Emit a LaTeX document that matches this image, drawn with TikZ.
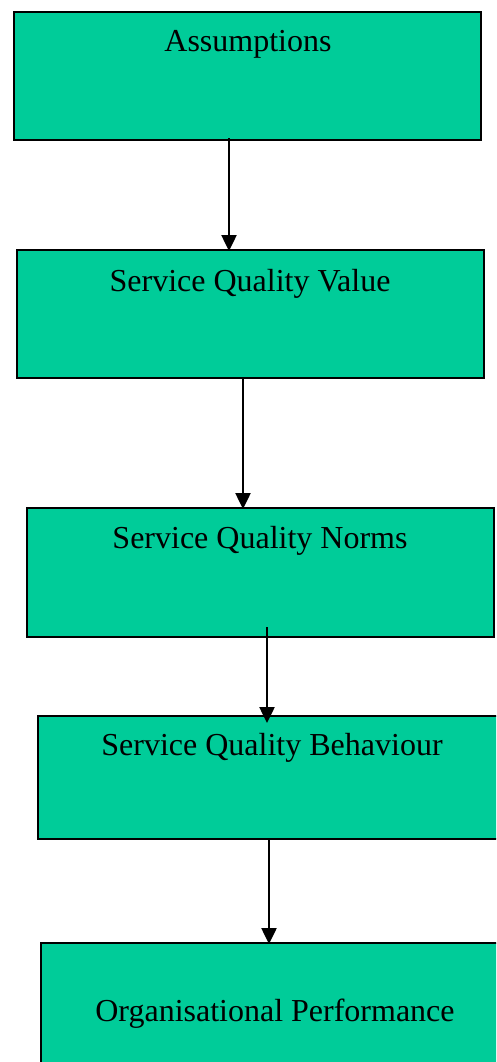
\documentclass[tikz,border=0pt]{standalone}
\usepackage{fontspec}
\setmainfont{Liberation Serif}
\usetikzlibrary{arrows.meta}
\definecolor{boxgreen}{RGB}{0,204,153}
\tikzset{
  stagebox/.style={draw=black, line width=2pt, fill=boxgreen, inner sep=0pt},
  stagelabel/.style={anchor=base, inner sep=0pt, font=\fontsize{32}{38}\selectfont},
  flow/.style={line width=2.5pt, -{Triangle[length=16pt,width=15pt]}, shorten >=-2pt}
}
\begin{document}
\begin{tikzpicture}[x=1pt,y=-1pt]
  \useasboundingbox (0,0) rectangle (496,1062);
  \clip (0,0) rectangle (496,1062);
  % stage boxes
  \node[stagebox, minimum width=467pt, minimum height=128pt] (b1) at (247.5,76) {};
  \node[stagebox, minimum width=467pt, minimum height=128pt] (b2) at (250.5,314) {};
  \node[stagebox, minimum width=467pt, minimum height=129pt] (b3) at (260.5,572.5) {};
  \node[stagebox, minimum width=467pt, minimum height=123pt] (b4) at (271.5,777.5) {};
  \node[stagebox, minimum width=467pt, minimum height=129pt] (b5) at (274.5,1007.5) {};
  % labels
  \node[stagelabel] (t1) at (248,52) {Assumptions};
  \node[stagelabel] (t2) at (250,291) {Service Quality Value};
  \node[stagelabel] (t3) at (260,548) {Service Quality Norms};
  \node[stagelabel] (t4) at (272,755) {Service Quality Behaviour};
  \node[stagelabel] (t5) at (275,1021) {Organisational Performance};
  % connectors
  \coordinate (s1) at (229,138);
  \coordinate (s2) at (243,378);
  \coordinate (s3) at (267,627);
  \coordinate (s4) at (269,839);
  \coordinate (e3) at (267,721);
  \draw[flow] (s1) -- (s1 |- b2.north);
  \draw[flow] (s2) -- (s2 |- b3.north);
  \draw[flow] (s3) -- (e3);
  \draw[flow] (s4) -- (s4 |- b5.north);
\end{tikzpicture}
\end{document}
